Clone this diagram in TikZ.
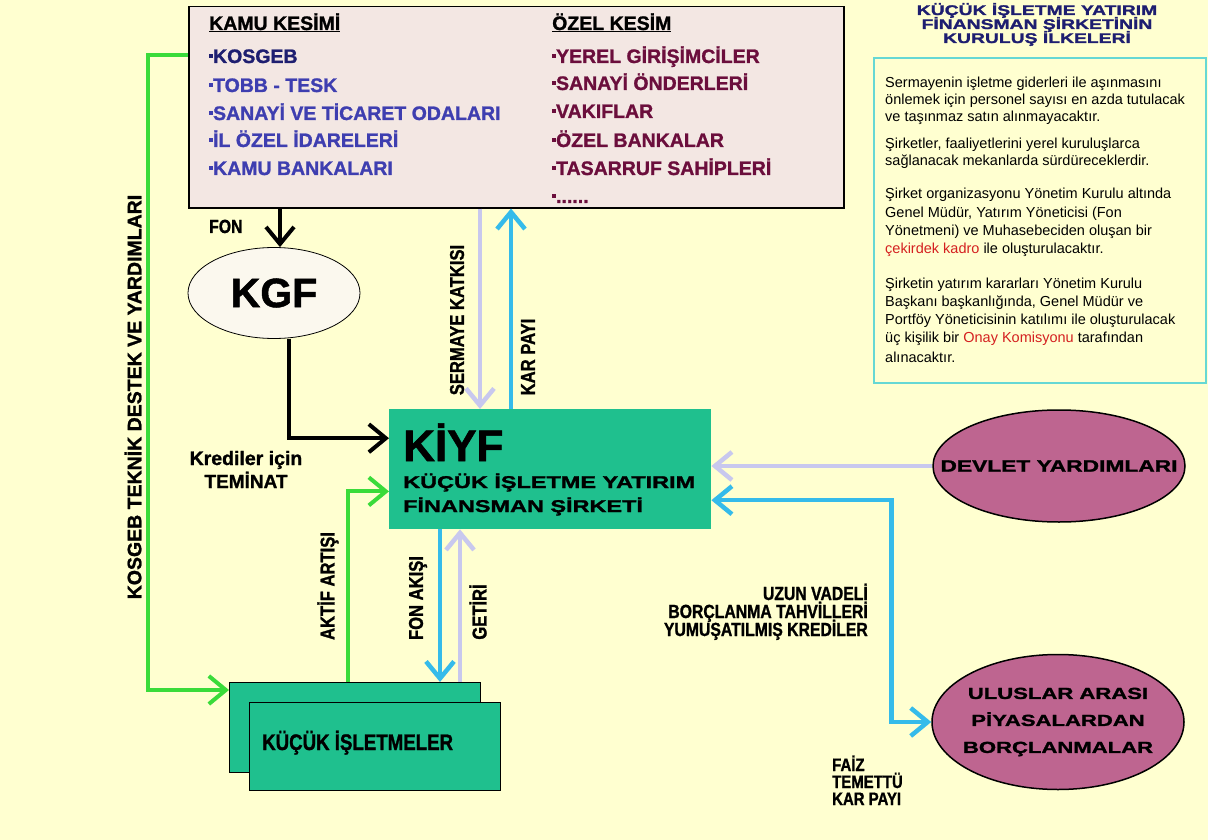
\documentclass[tikz,border=0pt]{standalone}
\usepackage{fontspec}
\setmainfont{Liberation Sans}[BoldFeatures={FakeBold=1.2}]
\newfontfamily\nar{Liberation Sans}[FakeStretch=0.83,BoldFeatures={FakeBold=1.2}]
\newfontfamily\wid{Liberation Sans}[FakeStretch=1.38,BoldFeatures={FakeBold=1.6}]
\usetikzlibrary{shapes.geometric,arrows.meta,calc}
\newcommand\fsz[1]{\fontsize{#1}{#1}\selectfont}
\newcommand\sqb{\rule[0.28em]{0.2em}{0.2em}}
\definecolor{bgc}{HTML}{FFFFD0}
\definecolor{topc}{HTML}{F3E7E3}
\definecolor{kiyfc}{HTML}{1FC08E}
\definecolor{grnc}{HTML}{3ADB3A}
\definecolor{bluc}{HTML}{35BBEA}
\definecolor{lavc}{HTML}{C8C8EE}
\definecolor{mauvec}{HTML}{BE6590}
\definecolor{navyc}{HTML}{1E1E70}
\definecolor{bluetxt}{HTML}{3E3EB0}
\definecolor{maroonc}{HTML}{6B0E3C}
\definecolor{tealc}{HTML}{66D8D4}
\definecolor{redc}{HTML}{D42020}
\definecolor{kgfc}{HTML}{FBF8EE}
\tikzset{
  tip/.style={-{Straight Barb[length=17pt,width=28pt]}},
  blk/.style={tip,draw=black,line width=4pt},
  grn/.style={tip,draw=grnc,line width=4pt},
  blu/.style={tip,draw=bluc,line width=4.5pt},
  lav/.style={tip,draw=lavc,line width=4.5pt},
  txt/.style={anchor=base west,inner sep=0pt},
  lst/.style={txt,font=\fsz{19.5}\bfseries},
  lbl/.style={inner sep=0pt,font=\nar\fsz{20}\bfseries},
  info/.style={txt,font=\fsz{14.5}},
  oval/.style={ellipse,draw=black,line width=1.5pt,fill=mauvec,inner sep=0pt},
  ovtxt/.style={inner sep=0pt,font=\wid\fontsize{16}{27}\selectfont\bfseries,align=center},
  gbox/.style={rectangle,draw=black,line width=1pt,fill=kiyfc,inner sep=0pt,anchor=north west}
}
\begin{document}
\begin{tikzpicture}[x=1pt,y=-1pt]
\path[fill=bgc,use as bounding box] (0,0) rectangle (1208,840);

% top box
\node[rectangle,draw=black,line width=1.5pt,fill=topc,minimum width=655pt,minimum height=201pt,inner sep=0pt,anchor=north west] (top) at (188,6) {};
\node[lst] (kamuh) at (209,30) {\underline{KAMU KESİMİ}};
\node[lst,text=navyc] (k1) at (209,63) {\sqb KOSGEB};
\node[lst,text=bluetxt] (k2) at (209,92) {\sqb TOBB - TESK};
\node[lst,text=bluetxt] (k3) at (209,120) {\sqb SANAYİ VE TİCARET ODALARI};
\node[lst,text=bluetxt] (k4) at (209,147) {\sqb İL ÖZEL İDARELERİ};
\node[lst,text=bluetxt] (k5) at (209,175) {\sqb KAMU BANKALARI};
\node[lst] (ozelh) at (552,30) {\underline{ÖZEL KESİM}};
\node[lst,text=maroonc] (o1) at (552,63) {\sqb YEREL GİRİŞİMCİLER};
\node[lst,text=maroonc] (o2) at (552,90) {\sqb SANAYİ ÖNDERLERİ};
\node[lst,text=maroonc] (o3) at (552,118) {\sqb VAKIFLAR};
\node[lst,text=maroonc] (o4) at (552,147) {\sqb ÖZEL BANKALAR};
\node[lst,text=maroonc] (o5) at (552,175) {\sqb TASARRUF SAHİPLERİ};
\node[lst,text=maroonc] (o6) at (552,203) {\sqb ......};

% title
\node[anchor=base,inner sep=0pt,font=\wid\fsz{14}\bfseries,text=navyc] (t1) at (1037,15) {KÜÇÜK İŞLETME YATIRIM};
\node[anchor=base,inner sep=0pt,font=\wid\fsz{14}\bfseries,text=navyc] (t2) at (1037,29) {FİNANSMAN ŞİRKETİNİN};
\node[anchor=base,inner sep=0pt,font=\wid\fsz{14}\bfseries,text=navyc] (t3) at (1037,43) {KURULUŞ İLKELERİ};

% info box
\node[rectangle,draw=tealc,line width=2pt,fill=bgc,minimum width=332pt,minimum height=325pt,inner sep=0pt,anchor=north west] (infobox) at (873,57) {};
\node[info] (p1) at (885,88) {Sermayenin işletme giderleri ile aşınmasını};
\node[info] (p2) at (885,105) {önlemek için personel sayısı en azda tutulacak};
\node[info] (p3) at (885,122) {ve taşınmaz satın alınmayacaktır.};
\node[info] (p4) at (885,149) {Şirketler, faaliyetlerini yerel kuruluşlarca};
\node[info] (p5) at (885,166) {sağlanacak mekanlarda sürdüreceklerdir.};
\node[info] (p6) at (885,199) {Şirket organizasyonu Yönetim Kurulu altında};
\node[info] (p7) at (885,217) {Genel Müdür, Yatırım Yöneticisi (Fon};
\node[info] (p8) at (885,235) {Yönetmeni) ve Muhasebeciden oluşan bir};
\node[info] (p9) at (885,253) {\textcolor{redc}{çekirdek kadro} ile oluşturulacaktır.};
\node[info] (p10) at (885,288) {Şirketin yatırım kararları Yönetim Kurulu};
\node[info] (p11) at (885,306) {Başkanı başkanlığında, Genel Müdür ve};
\node[info] (p12) at (885,324) {Portföy Yöneticisinin katılımı ile oluşturulacak};
\node[info] (p13) at (885,342) {üç kişilik bir \textcolor{redc}{Onay Komisyonu} tarafından};
\node[info] (p14) at (885,362) {alınacaktır.};

% KGF
\node[ellipse,draw=black,line width=0.8pt,fill=kgfc,minimum width=172pt,minimum height=91pt,inner sep=0pt,font=\fsz{41}\bfseries] (kgf) at (274,293) {KGF};

% KIYF
\node[rectangle,fill=kiyfc,minimum width=322pt,minimum height=120pt,inner sep=0pt,anchor=north west] (kiyf) at (389,409) {};
\node[txt,font=\fsz{44}\bfseries] (kiyf1) at (403,461) {KİYF};
\node[txt,font=\wid\fsz{17}\bfseries] (kiyf2) at (403,488) {KÜÇÜK İŞLETME YATIRIM};
\node[txt,font=\wid\fsz{17}\bfseries] (kiyf3) at (403,512) {FİNANSMAN ŞİRKETİ};

% kucuk isletmeler
\node[gbox,minimum width=251pt,minimum height=90pt] (kback) at (229,682) {};
\node[gbox,minimum width=251pt,minimum height=88pt] (kfront) at (249,702) {};
\node[txt,font=\nar\fsz{22.5}\bfseries] (kt) at (262,750) {KÜÇÜK İŞLETMELER};

% ovals
\node[oval,minimum width=252pt,minimum height=112pt] (devlet) at (1059,466) {};
\node[ovtxt,font=\wid\fsz{16.5}\bfseries] (devt) at (devlet.center) {DEVLET YARDIMLARI};
\node[oval,minimum width=252pt,minimum height=135pt] (ulus) at (1058,722) {};
\node[ovtxt] (ulust) at (ulus.center) {ULUSLAR ARASI\\PİYASALARDAN\\BORÇLANMALAR};

% labels
\node[txt,font=\nar\fsz{19}\bfseries] (fon) at (209,233) {FON};
\node[lbl,rotate=90,font=\fsz{19.5}\bfseries] (kosl) at (133,397) {KOSGEB TEKNİK DESTEK VE YARDIMLARI};
\node[anchor=base,inner sep=0pt,font=\fsz{19.5}\bfseries] (kr1) at (246,465) {Krediler için};
\node[anchor=base,inner sep=0pt,font=\fsz{19}\bfseries] (kr2) at (246,488) {TEMİNAT};
\node[lbl,rotate=90] (serl) at (457,320) {SERMAYE KATKISI};
\node[lbl,rotate=90] (karl) at (528,357) {KAR PAYI};
\node[lbl,rotate=90] (aktl) at (328,586) {AKTİF ARTIŞI};
\node[lbl,rotate=90] (fonl) at (418,598) {FON AKIŞI};
\node[lbl,rotate=90] (getl) at (478,612) {GETİRİ};
\node[anchor=base east,inner sep=0pt,font=\nar\fsz{19}\bfseries] (u1) at (868,600) {UZUN VADELİ};
\node[anchor=base east,inner sep=0pt,font=\nar\fsz{19}\bfseries] (u2) at (868,618) {BORÇLANMA TAHVİLLERİ};
\node[anchor=base east,inner sep=0pt,font=\nar\fsz{19}\bfseries] (u3) at (868,636) {YUMUŞATILMIŞ KREDİLER};
\node[txt,font=\nar\fsz{18}\bfseries] (f1) at (832,771) {FAİZ};
\node[txt,font=\nar\fsz{18}\bfseries] (f2) at (832,788) {TEMETTÜ};
\node[txt,font=\nar\fsz{18}\bfseries] (f3) at (832,805) {KAR PAYI};

% connectors
\draw[blk] ($(top.south west)+(92,0)$) -- ($(kgf.north)+(6,0)$);
\draw[blk] ($(kgf.south)+(15,0)$) |- ($(kiyf.west)+(0,-31)$);
\draw[grn] ($(top.north west)+(0,49)$) -| ($(kback.north west)+(-81,8)$) -- ($(kback.north west)+(0,8)$);
\draw[grn] ($(kback.north west)+(119,0)$) |- ($(kiyf.south west)+(0,-38)$);
\draw[blu] ($(kiyf.south west)+(51,0)$) -- ($(kback.north west)+(211,0)$);
\draw[lav] ($(kback.north west)+(231,0)$) -- ($(kiyf.south west)+(71,0)$);
\draw[lav] ($(top.south west)+(292,0)$) -- ($(kiyf.north west)+(91,0)$);
\draw[blu] ($(kiyf.north west)+(122,0)$) -- ($(top.south west)+(323,0)$);
\draw[lav] (devlet.west) -- (kiyf.east |- devlet.west);
\draw[blu,{Straight Barb[length=17pt,width=28pt]}-{Straight Barb[length=17pt,width=28pt]}] ($(kiyf.east)+(0,31)$) -| ($(ulus.west)+(-40,0)$) -- (ulus.west);
\end{tikzpicture}
\end{document}
